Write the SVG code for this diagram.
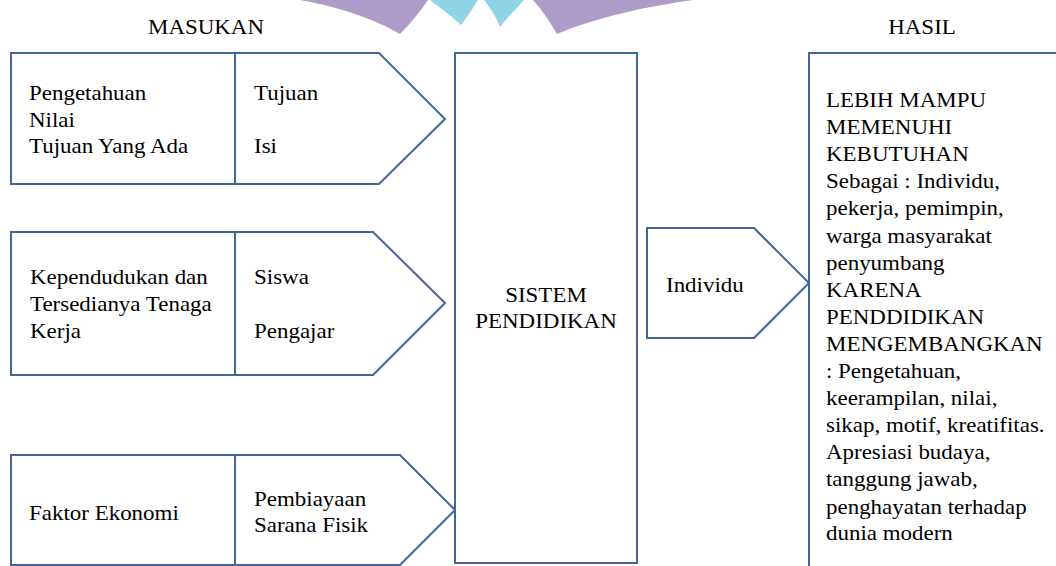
<svg xmlns="http://www.w3.org/2000/svg" width="1056" height="566" viewBox="0 0 1056 566">
<style>
.shape{fill:#ffffff;stroke:#41669a;stroke-width:2;stroke-linejoin:miter}
.div{stroke:#41669a;stroke-width:2}
.t{font-family:'Liberation Serif',serif;font-size:20.5px;fill:#000000}
.c{text-anchor:middle}
</style>
<rect width="1056" height="566" fill="#ffffff"/>
<g id="watermark" opacity="0.9">
<path d="M300,0 L428,0 C420,12 410,24 400,34 C380,22 345,8 300,0 Z" fill="#a592c3"/>
<path d="M430,0 L478,0 C472,10 466,18 461,25 C452,16 440,8 430,0 Z" fill="#86cfe6"/>
<path d="M484,0 L524,0 C516,9 507,18 500,27 C496,16 490,8 484,0 Z" fill="#86cfe6"/>
<path d="M533,0 L693,0 C636,8 590,20 557,34 C550,22 542,10 533,0 Z" fill="#a592c3"/>
</g>
<g id="title-masukan"><text class="t c" transform="translate(206,0) scale(1.12,1)"><tspan x="0" y="34">MASUKAN</tspan></text></g>
<g id="title-hasil"><text class="t c" transform="translate(922,0) scale(1.12,1)"><tspan x="0" y="34">HASIL</tspan></text></g>
<g id="connectors"></g>
<g id="input1">
<polygon class="shape" points="11,53 379,53 445,119 379,184 11,184"/>
<line class="div" x1="235" y1="53" x2="235" y2="184"/>
<text class="t" transform="translate(29,0) scale(1.12,1)"><tspan x="0" y="100">Pengetahuan</tspan><tspan x="0" y="127">Nilai</tspan><tspan x="0" y="153">Tujuan Yang Ada</tspan></text>
<text class="t" transform="translate(254,0) scale(1.12,1)"><tspan x="0" y="100">Tujuan</tspan><tspan x="0" y="153">Isi</tspan></text>
</g>
<g id="input2">
<polygon class="shape" points="11,232 373,232 445,303 373,375 11,375"/>
<line class="div" x1="235" y1="232" x2="235" y2="375"/>
<text class="t" transform="translate(30,0) scale(1.12,1)"><tspan x="0" y="284">Kependudukan dan</tspan><tspan x="0" y="311">Tersedianya Tenaga</tspan><tspan x="0" y="338">Kerja</tspan></text>
<text class="t" transform="translate(254,0) scale(1.12,1)"><tspan x="0" y="284">Siswa</tspan><tspan x="0" y="338">Pengajar</tspan></text>
</g>
<g id="input3">
<polygon class="shape" points="11,455 400,455 455,510 400,565 11,565"/>
<line class="div" x1="235" y1="455" x2="235" y2="565"/>
<text class="t" transform="translate(29,0) scale(1.12,1)"><tspan x="0" y="520">Faktor Ekonomi</tspan></text>
<text class="t" transform="translate(254,0) scale(1.12,1)"><tspan x="0" y="506">Pembiayaan</tspan><tspan x="0" y="532">Sarana Fisik</tspan></text>
</g>
<g id="sistem">
<rect class="shape" x="455" y="53" width="182" height="510"/>
<text class="t c" transform="translate(546,0) scale(1.12,1)"><tspan x="0" y="302">SISTEM</tspan><tspan x="0" y="328">PENDIDIKAN</tspan></text>
</g>
<g id="individu">
<polygon class="shape" points="647,228 754,228 809,283 754,338 647,338"/>
<text class="t" transform="translate(666,0) scale(1.12,1)"><tspan x="0" y="292">Individu</tspan></text>
</g>
<g id="hasil">
<rect class="shape" x="809" y="53" width="400" height="600"/>
<text class="t" transform="translate(826,0) scale(1.12,1)"><tspan x="0" y="107">LEBIH MAMPU</tspan><tspan x="0" y="134">MEMENUHI</tspan><tspan x="0" y="161">KEBUTUHAN</tspan><tspan x="0" y="188">Sebagai : Individu,</tspan><tspan x="0" y="215">pekerja, pemimpin,</tspan><tspan x="0" y="243">warga masyarakat</tspan><tspan x="0" y="270">penyumbang</tspan><tspan x="0" y="297">KARENA</tspan><tspan x="0" y="324">PENDDIDIKAN</tspan><tspan x="0" y="351">MENGEMBANGKAN</tspan><tspan x="0" y="378">: Pengetahuan,</tspan><tspan x="0" y="405">keerampilan, nilai,</tspan><tspan x="0" y="432">sikap, motif, kreatifitas.</tspan><tspan x="0" y="459">Apresiasi budaya,</tspan><tspan x="0" y="486">tanggung jawab,</tspan><tspan x="0" y="514">penghayatan terhadap</tspan><tspan x="0" y="540">dunia modern</tspan></text>
</g>
</svg>
